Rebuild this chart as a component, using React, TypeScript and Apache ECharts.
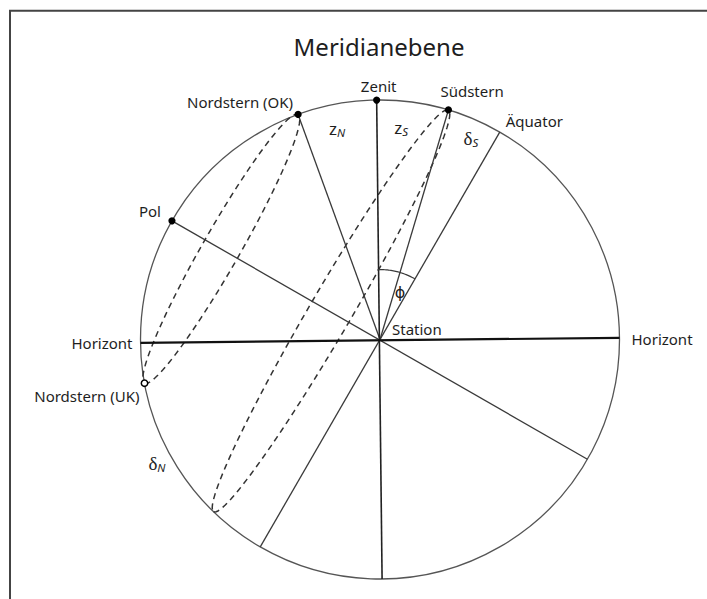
import React, { useEffect, useRef } from "react";
import * as echarts from "echarts";

// ---- data (angles in degrees, measured clockwise from the zenith) ----
const chartTitle = "Meridianebene";
const dotNames = ["Zenit", "Nordstern (OK)", "Südstern", "Pol"];
const dotAngles = [-0.8, -20, 16.6, -60.3];
const openDotNames = ["Nordstern (UK)"];
const openDotAngles = [-100.5];
const horizonAngles = [-90.8, 89.6];
const meridianAngles = [-0.8, 179.5];
const poleAxisAngles = [-60.3, 120];
const equatorAngles = [30, 210];
const equatorName = "Äquator";
const horizonName = "Horizont";
const stationName = "Station";
const starRayAngles = [-20, 16.6];
const pathUpperAngles = [-20, 16.6];
const pathLowerAngles = [-100.5, 224];
const pathHalfWidths = [0.078, 0.088];
const phiArcAngles = [-2, 30];
const angleSymbols = ["z", "z", "δ", "δ"];
const angleSubscripts = ["N", "S", "S", "N"];
const angleLabelAngles = [-11.5, 5.7, 24.3, -119];
const angleLabelRadii = [0.9, 0.888, 0.923, 1.065];
const phiSymbol = "ϕ";
const phiLabelAt = [23, 0.215];

// ---- layout ----
const W = 707;
const H = 599;
const CX = 380;
const CY = 339.5;
const RPX = 239.5;
const FONT = "Noto Sans";
const TXT = "#1e1e1e";

const toXY = (deg: number, r = 1) => {
  const a = (deg * Math.PI) / 180;
  return [r * Math.sin(a), r * Math.cos(a)];
};

export default function App() {
  const ref = useRef<HTMLDivElement>(null);
  useEffect(() => {
    if (!ref.current) return;
    const chart = echarts.init(ref.current, undefined, { renderer: "svg" });

    const renderItem = (_params: any, api: any) => {
      const P = (deg: number, r = 1) => api.coord(toXY(deg, r));
      const C = api.coord([0, 0]);
      const rpx = api.size([1, 0])[0];
      const ch: any[] = [];
      // outer circle
      ch.push({
        type: "circle",
        shape: { cx: C[0], cy: C[1], r: rpx },
        style: { fill: "none", stroke: "#555", lineWidth: 1.3 },
      });
      // dashed star paths (ellipses)
      pathUpperAngles.forEach((a1, i) => {
        const p1 = toXY(a1);
        const p2 = toXY(pathLowerAngles[i]);
        const mx = (p1[0] + p2[0]) / 2;
        const my = (p1[1] + p2[1]) / 2;
        const dx = p2[0] - p1[0];
        const dy = p2[1] - p1[1];
        const len = Math.hypot(dx, dy);
        const ux = dx / len, uy = dy / len;
        const vx = -uy, vy = ux;
        const a = len / 2, b = pathHalfWidths[i];
        const pts: number[][] = [];
        for (let t = 0; t <= 360; t += 3) {
          const tr = (t * Math.PI) / 180;
          const x = mx + ux * a * Math.cos(tr) + vx * b * Math.sin(tr);
          const y = my + uy * a * Math.cos(tr) + vy * b * Math.sin(tr);
          pts.push(api.coord([x, y]));
        }
        ch.push({
          type: "polyline",
          shape: { points: pts },
          style: { fill: "none", stroke: "#333", lineWidth: 1.5, lineDash: [6, 4.5] },
        });
      });
      const seg = (a: number[] | null, b: number[], w: number, col: string) => {
        const p1 = a ? a : C;
        ch.push({
          type: "line",
          shape: { x1: p1[0], y1: p1[1], x2: b[0], y2: b[1] },
          style: { stroke: col, lineWidth: w },
        });
      };
      seg(P(poleAxisAngles[0]), P(poleAxisAngles[1]), 1.3, "#3a3a3a");
      seg(P(equatorAngles[0]), P(equatorAngles[1]), 1.3, "#3a3a3a");
      starRayAngles.forEach((a) => seg(null, P(a), 1.3, "#3a3a3a"));
      seg(P(meridianAngles[0]), P(meridianAngles[1]), 1.6, "#222");
      seg(P(horizonAngles[0]), P(horizonAngles[1]), 2.2, "#111");
      // phi arc
      const arcPts: number[][] = [];
      for (let d = phiArcAngles[0]; d <= phiArcAngles[1] + 0.01; d += 1) arcPts.push(P(d, 0.292));
      ch.push({
        type: "polyline",
        shape: { points: arcPts },
        style: { fill: "none", stroke: "#3a3a3a", lineWidth: 1.2 },
      });
      // dots
      dotAngles.forEach((a) => {
        const p = P(a);
        ch.push({ type: "circle", shape: { cx: p[0], cy: p[1], r: 3.6 }, style: { fill: "#000" } });
      });
      openDotAngles.forEach((a) => {
        const p = P(a);
        ch.push({
          type: "circle",
          shape: { cx: p[0], cy: p[1], r: 3.2 },
          style: { fill: "#fff", stroke: "#000", lineWidth: 1.5 },
        });
      });
      const text = (x: number, y: number, t: string, align: string, extra: any = {}) => {
        ch.push({
          type: "text",
          x,
          y,
          style: {
            text: t,
            fontSize: 15,
            fontFamily: FONT,
            fill: TXT,
            align,
            verticalAlign: "middle",
            ...extra,
          },
        });
      };
      // point labels
      const dotOffsets = [
        [2, -14, "center"],
        [-5, -12, "right"],
        [-8, -18.5, "left"],
        [-11, -9.5, "right"],
      ];
      dotNames.forEach((n, i) => {
        const p = P(dotAngles[i]);
        const o = dotOffsets[i];
        text(p[0] + (o[0] as number), p[1] + (o[1] as number), n, o[2] as string);
      });
      openDotNames.forEach((n, i) => {
        const p = P(openDotAngles[i]);
        text(p[0] - 5, p[1] + 12.5, n, "right");
      });
      const eq = P(equatorAngles[0]);
      text(eq[0] + 6, eq[1] - 11, equatorName, "left");
      const hl = P(horizonAngles[0]);
      text(hl[0] - 8, hl[1], horizonName, "right");
      const hr = P(horizonAngles[1]);
      text(hr[0] + 12, hr[1] + 1.5, horizonName, "left");
      text(C[0] + 12, C[1] - 10.5, stationName, "left");
      // angle labels with subscripts
      angleSymbols.forEach((s, i) => {
        const p = P(angleLabelAngles[i], angleLabelRadii[i]);
        const isDelta = s === "δ";
        ch.push({
          type: "text",
          x: p[0],
          y: p[1],
          style: {
            text: `{m|${s}}{s|${angleSubscripts[i]}}`,
            align: "center",
            verticalAlign: "middle",
            fill: TXT,
            rich: {
              m: {
                fontSize: isDelta ? 19 : 17,
                fontFamily: isDelta ? "Liberation Serif" : FONT,
                fill: TXT,
                lineHeight: 20,
                verticalAlign: "middle",
              },
              s: {
                fontSize: 11.5,
                fontStyle: "italic",
                fontFamily: FONT,
                fill: TXT,
                lineHeight: 10,
                verticalAlign: "bottom",
              },
            },
          },
        });
      });
      const ph = P(phiLabelAt[0], phiLabelAt[1]);
      text(ph[0], ph[1], phiSymbol, "center", { fontSize: 16, fontFamily: "DejaVu Sans" });
      return { type: "group", children: ch };
    };

    chart.setOption({
      animation: false,
      backgroundColor: "#fff",
      title: {
        text: chartTitle,
        left: 374,
        top: 29,
        textAlign: "center",
        textStyle: { fontSize: 24, fontWeight: "normal", color: TXT, fontFamily: FONT },
      },
      grid: { left: 0, right: 0, top: 0, bottom: 0 },
      xAxis: { type: "value", min: -CX / RPX, max: (W - CX) / RPX, show: false },
      yAxis: { type: "value", min: -(H - CY) / RPX, max: CY / RPX, show: false },
      graphic: [
        {
          type: "rect",
          shape: { x: 10, y: 10.7, width: 900, height: 900 },
          style: { fill: "none", stroke: "#444", lineWidth: 2 },
          silent: true,
        },
      ],
      series: [
        {
          type: "custom",
          silent: true,
          clip: false,
          data: [[0, 0]],
          renderItem,
        },
      ],
    });
    return () => chart.dispose();
  }, []);
  return (
    <div
      ref={ref}
      style={{ position: "fixed", left: 0, top: 0, width: W, height: H, background: "#fff" }}
    />
  );
}
